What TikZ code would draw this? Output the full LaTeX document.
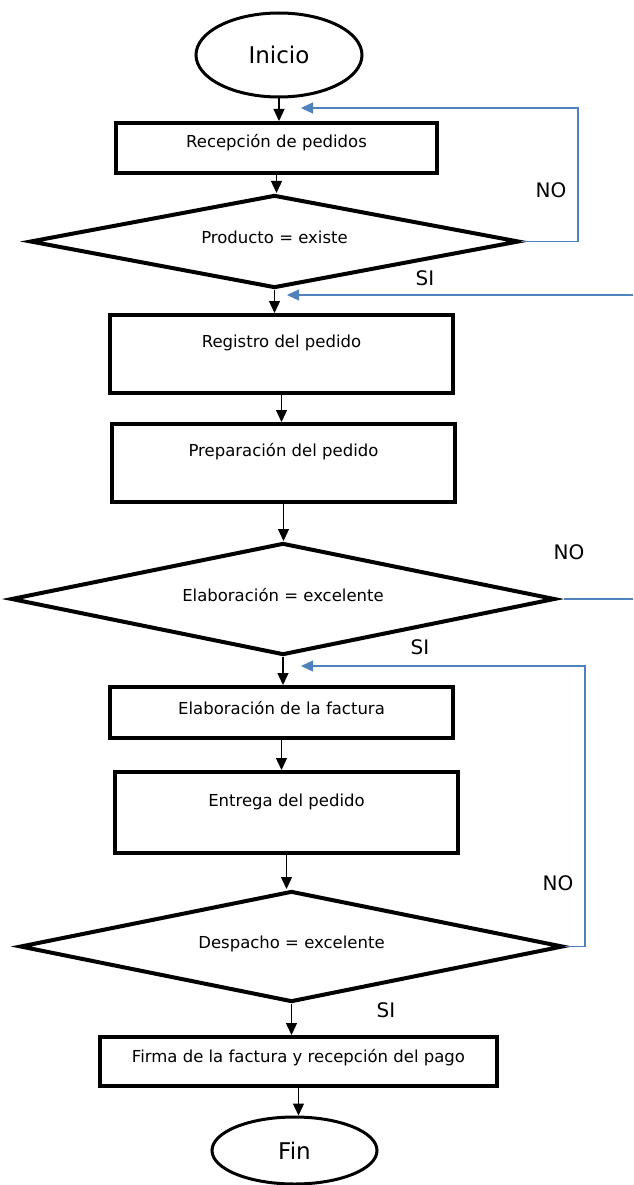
\documentclass[tikz,border=0pt]{standalone}
\usepackage{fontspec}
\setmainfont{DejaVu Sans}
\usetikzlibrary{shapes.geometric,arrows.meta}
\definecolor{loopblue}{RGB}{79,129,189}

\begin{document}
\begin{tikzpicture}[x=1pt,y=-1pt,>={Triangle[length=12pt,width=11pt]},
        proc/.style={draw,rectangle,line width=4pt,inner sep=0pt,minimum width=343pt,
                font=\fontsize{16.5}{19}\selectfont,text height=12pt,text depth=10pt},
        cond/.style={draw,diamond,aspect=5,line width=4pt,inner sep=0pt,
                font=\fontsize{16.5}{19}\selectfont,text height=12pt,text depth=8pt},
        term/.style={draw,ellipse,line width=3pt,inner sep=0pt,
                font=\fontsize{23}{27}\selectfont},
        answer/.style={font=\fontsize{20}{24}\selectfont},
        flow/.style={->,line width=1.3pt},
        loop/.style={line width=1.3pt,loopblue}]
        \useasboundingbox (0,0) rectangle (633,1185);

        % draw the start and the end
        \node[term,minimum width=166pt,minimum height=84pt] (inicio) at (279,55) {Inicio};
        \node[term,minimum width=165pt,minimum height=67pt] (fin) at (294.5,1150.5) {Fin};

        % draw the steps
        \node[proc,minimum width=321pt,minimum height=50pt,text depth=12pt] (recep) at (276.5,148) {Recepción de pedidos};
        \node[proc,minimum height=78pt,text depth=26pt] (registro) at (281.5,354) {Registro del pedido};
        \node[proc,minimum height=78pt,text depth=26pt] (prep) at (283.5,463) {Preparación del pedido};
        \node[proc,minimum height=51pt,text depth=9pt] (factura) at (281.5,712.5) {Elaboración de la factura};
        \node[proc,minimum height=81pt,text depth=25pt] (entrega) at (286.5,812.5) {Entrega del pedido};
        \node[proc,minimum width=397pt,minimum height=49pt,text depth=11pt] (firma) at (298.5,1061.5) {Firma de la factura y recepción del pago};

        % draw the decisions
        \node[cond,minimum width=489pt,minimum height=93pt] (existe) at (274.5,241.5) {Producto = existe};
        \node[cond,minimum width=544pt,minimum height=112pt] (elab) at (283,599) {Elaboración = excelente};
        \node[cond,minimum width=543pt,minimum height=111pt] (desp) at (291.5,946.5) {Despacho = excelente};

        % the answers
        \node[answer] (no1) at (551,190) {NO};
        \node[answer] (si1) at (425,278) {SI};
        \node[answer] (no2) at (569,552) {NO};
        \node[answer] (si2) at (420,647) {SI};
        \node[answer] (no3) at (558,883) {NO};
        \node[answer] (si3) at (386,1010) {SI};

        % arrows down the main line
        \foreach \a/\b in {inicio/recep, recep/existe, existe/registro, registro/prep,
                prep/elab, elab/factura, factura/entrega, entrega/desp, desp/firma, firma/fin}
                \draw[flow] (\a.south) -- (\a.south |- \b.north);

        % loose ends of the loops
        \coordinate (back1) at (301,108);
        \coordinate (in2) at (633,295);
        \coordinate (back2) at (287,295);
        \coordinate (out2) at (564,599);
        \coordinate (edge2) at (633,599);
        \coordinate (back3) at (301,666);

        % the blue loops
        \draw[loop,->] (existe.east) -- (578,241.5) |- (back1);
        \draw[loop,->] (in2) -- (back2);
        \draw[loop] (out2) -- (edge2);
        \draw[loop,->] (desp.east) -- (585,946.5) |- (back3);
\end{tikzpicture}
\end{document}
